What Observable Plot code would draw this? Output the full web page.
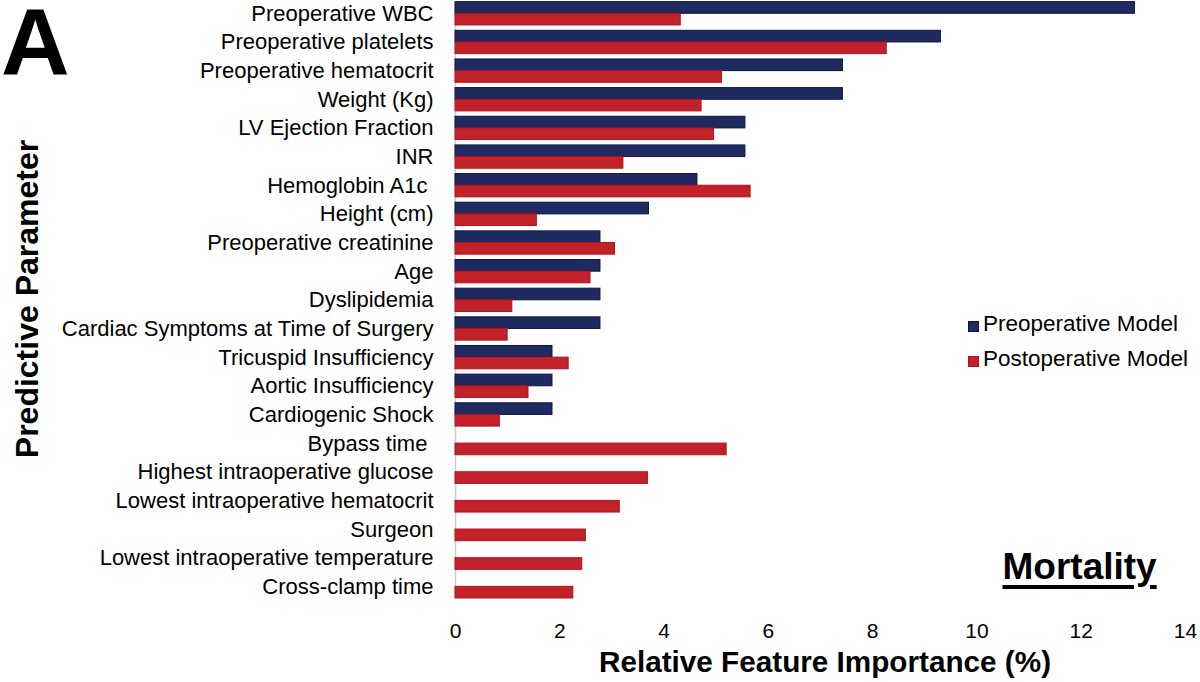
<!DOCTYPE html>
<html><head><meta charset="utf-8">
<script src="https://cdn.jsdelivr.net/npm/d3@7"></script>
<script src="https://cdn.jsdelivr.net/npm/@observablehq/plot@0.6"></script>
<style>
body{margin:0;background:#fff;font-family:"Liberation Sans",Arial,sans-serif;}
#wrap{position:relative;width:1200px;height:682px;overflow:hidden;}
.abs{position:absolute;white-space:nowrap;color:#000;line-height:1;}
</style></head><body><div id="wrap"></div>
<script>
const parameters = [
  "Preoperative WBC","Preoperative platelets","Preoperative hematocrit","Weight (Kg)",
  "LV Ejection Fraction","INR","Hemoglobin A1c\u00a0","Height (cm)","Preoperative creatinine",
  "Age","Dyslipidemia","Cardiac Symptoms at Time of Surgery","Tricuspid Insufficiency",
  "Aortic Insufficiency","Cardiogenic Shock","Bypass time\u00a0","Highest intraoperative glucose",
  "Lowest intraoperative hematocrit","Surgeon","Lowest intraoperative temperature","Cross-clamp time"
];
const preoperative = [13.03, 9.31, 7.43, 7.43, 5.56, 5.56, 4.64, 3.71, 2.78, 2.78, 2.78, 2.78, 1.86, 1.86, 1.86, null, null, null, null, null, null];
const postoperative = [4.32, 8.27, 5.11, 4.72, 4.96, 3.22, 5.66, 1.56, 3.06, 2.59, 1.09, 1.00, 2.17, 1.40, 0.85, 5.20, 3.69, 3.15, 2.50, 2.43, 2.26];
const xTicks = [0, 2, 4, 6, 8, 10, 12, 14];
const models = ["Preoperative Model", "Postoperative Model"];
const fills = ["#1f2a5f", "#c1222a"];
const strokes = ["#0c1447", "#b3121b"];
const xLabel = "Relative Feature Importance (%)";
const yLabel = "Predictive Parameter";
const panelLetter = "A";
const panelTitle = "Mortality";

const rows = parameters.map((p, i) => ({p, pre: preoperative[i], post: postoperative[i]}));

const chart = Plot.plot({
  width: 1200, height: 682,
  marginLeft: 455, marginRight: 15, marginTop: 1.65, marginBottom: 84,
  style: {fontFamily: "'Liberation Sans', Arial, sans-serif", color: "#000", background: "transparent"},
  x: {domain: [0, 14]},
  y: {domain: parameters, paddingInner: 0.187, paddingOuter: 0, round: false},
  marks: [
    Plot.ruleX([0], {stroke: "#cccccc", strokeWidth: 1.5}),
    Plot.barX(rows.filter(d => d.pre != null), {x: "pre", y: "p", fill: fills[0], stroke: strokes[0], strokeWidth: 1, insetBottom: 11.65}),
    Plot.barX(rows, {x: "post", y: "p", fill: fills[1], stroke: strokes[1], strokeWidth: 1, insetTop: 11.65}),
    Plot.axisY({tickSize: 0, tickPadding: 22, fontSize: 22, label: null, fill: "#000"}),
    Plot.axisX({ticks: xTicks, tickSize: 0, tickPadding: 25, fontSize: 21, label: null, fill: "#000"})
  ]
});
const wrap = document.getElementById("wrap");
wrap.appendChild(chart);

function addText(txt, css) {
  const d = document.createElement("div");
  d.className = "abs";
  d.textContent = txt;
  Object.assign(d.style, css);
  wrap.appendChild(d);
  return d;
}
// with line-height L: baseline = top + (L/2 + 0.3465) * fs
addText(panelLetter, {left: "1px", top: (75 - 0.7465*95) + "px", fontSize: "95px", fontWeight: "bold", lineHeight: "0.8"});
addText(xLabel, {left: "825px", top: (672 - 0.8465*29.7) + "px", fontSize: "29.7px", fontWeight: "bold", transform: "translateX(-50%)"});
addText(yLabel, {left: "26.5px", top: "299px", fontSize: "32px", fontWeight: "bold", transform: "translate(-50%,-50%) rotate(-90deg)"});
addText(panelTitle, {left: "1002.5px", top: (579 - 0.8465*37) + "px", fontSize: "37px", fontWeight: "bold", textDecoration: "underline", textDecorationThickness: "3.5px", textUnderlineOffset: "6px"});

const legendBase = [332, 367];
models.forEach((m, i) => {
  const s = document.createElement("div");
  Object.assign(s.style, {position: "absolute", left: "968px", top: (legendBase[i] - 11) + "px", width: "11px", height: "11px",
    background: fills[i], border: "1px solid " + strokes[i], boxSizing: "border-box"});
  wrap.appendChild(s);
  addText(m, {left: "983px", top: (legendBase[i] - 0.8465*22.5) + "px", fontSize: "22.5px"});
});
</script></body></html>
